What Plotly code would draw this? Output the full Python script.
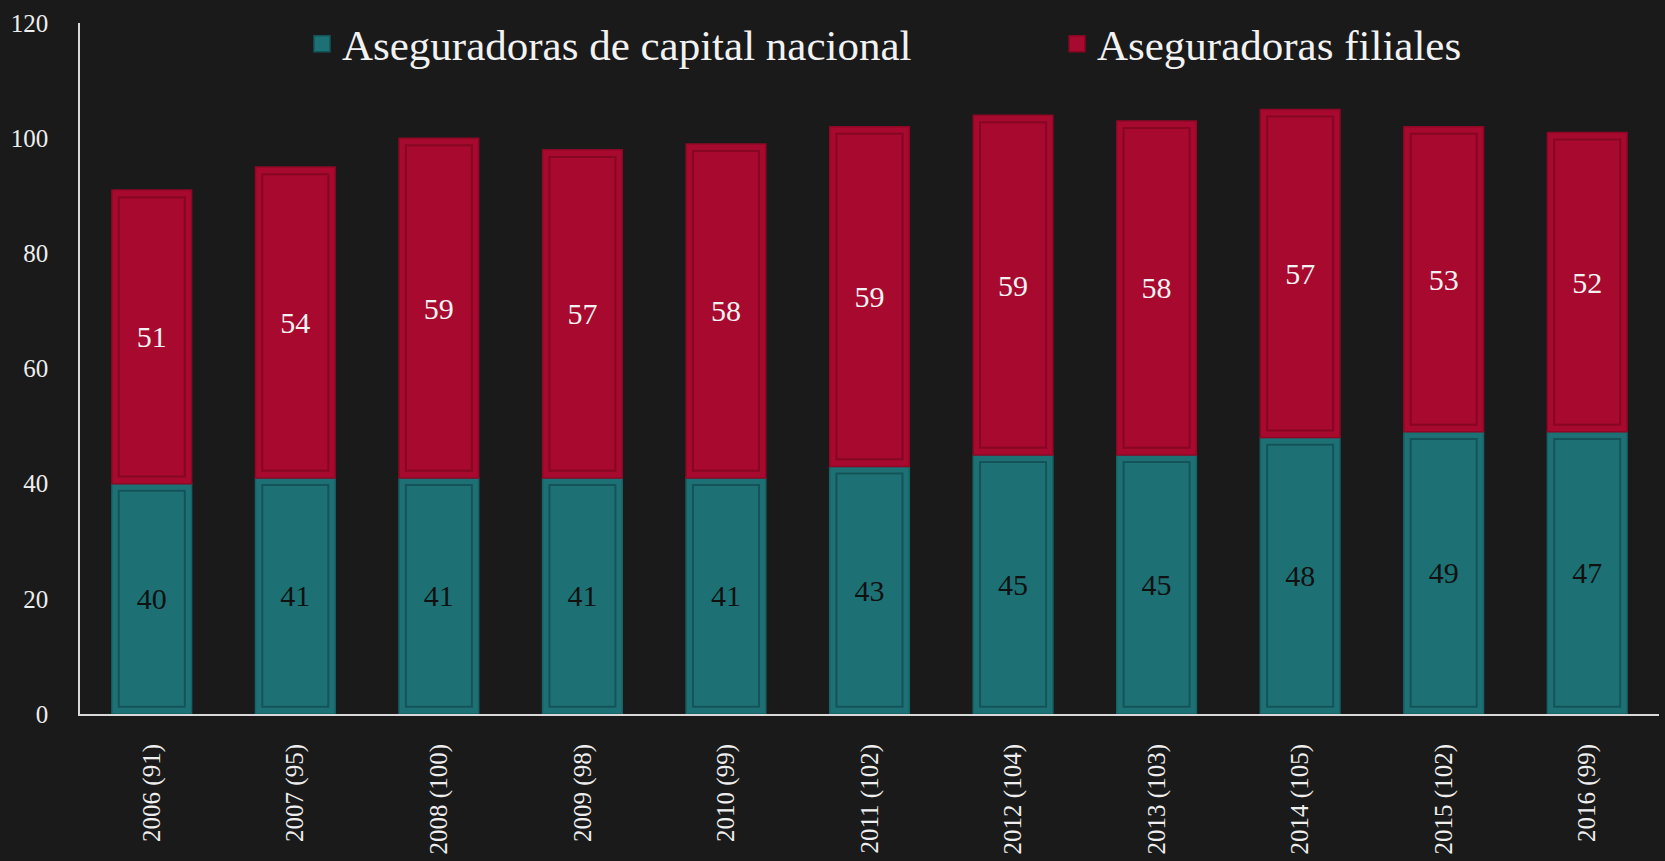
import plotly.graph_objects as go
import numpy as np

categorias = ["2006 (91)", "2007 (95)", "2008 (100)", "2009 (98)", "2010 (99)", "2011 (102)",
              "2012 (104)", "2013 (103)", "2014 (105)", "2015 (102)", "2016 (99)"]
nacional = [40, 41, 41, 41, 41, 43, 45, 45, 48, 49, 49]
nacional_etiquetas = ["40", "41", "41", "41", "41", "43", "45", "45", "48", "49", "47"]
filiales = [51, 54, 59, 57, 58, 59, 59, 58, 57, 53, 52]
filiales_etiquetas = ["51", "54", "59", "57", "58", "59", "59", "58", "57", "53", "52"]

TEAL = "#1d7175"
TEAL_DARK = "#145458"
RED = "#a8092e"
RED_DARK = "#850722"
BG = "#1a1a1a"
FONT = "Liberation Serif"

nac = np.array(nacional, dtype=float)
fil = np.array(filiales, dtype=float)
inset = 1.25

fig = go.Figure()

# outer bars
fig.add_trace(go.Bar(x=categorias, y=nac, base=np.zeros_like(nac), width=0.555,
                     marker=dict(color=TEAL, line=dict(color="#176266", width=1.5)),
                     text=nacional_etiquetas, textposition="inside", insidetextanchor="middle",
                     textangle=0, textfont=dict(color="#111111", size=30, family=FONT),
                     showlegend=False, name="Aseguradoras de capital nacional"))
fig.add_trace(go.Bar(x=categorias, y=fil, base=nac, width=0.555,
                     marker=dict(color=RED, line=dict(color="#8e0826", width=1.5)),
                     text=filiales_etiquetas, textposition="inside", insidetextanchor="middle",
                     textangle=0, textfont=dict(color="#f2f2f2", size=30, family=FONT),
                     showlegend=False, name="Aseguradoras filiales"))
# inner bevel outlines
fig.add_trace(go.Bar(x=categorias, y=nac - 2 * inset, base=np.zeros_like(nac) + inset, width=0.46,
                     marker=dict(color="rgba(0,0,0,0)", line=dict(color=TEAL_DARK, width=2)),
                     showlegend=False, hoverinfo="skip"))
fig.add_trace(go.Bar(x=categorias, y=fil - 2 * inset, base=nac + inset, width=0.46,
                     marker=dict(color="rgba(0,0,0,0)", line=dict(color=RED_DARK, width=2)),
                     showlegend=False, hoverinfo="skip"))

# legend entries
fig.add_trace(go.Scatter(x=[None], y=[None], mode="markers", name="Aseguradoras de capital nacional",
                         legend="legend",
                         marker=dict(symbol="square", size=16, color=TEAL, line=dict(color=TEAL_DARK, width=1.5))))
fig.add_trace(go.Scatter(x=[None], y=[None], mode="markers", name="Aseguradoras filiales",
                         legend="legend2",
                         marker=dict(symbol="square", size=16, color=RED, line=dict(color=RED_DARK, width=1.5))))

plot_l, plot_w = 80, 1579
leg_common = dict(orientation="h", xanchor="left", y=0.97, yanchor="middle",
                  font=dict(size=43, color="#f2f2f2", family=FONT), bgcolor="rgba(0,0,0,0)")

fig.update_layout(
    width=1665, height=861,
    barmode="overlay",
    paper_bgcolor=BG, plot_bgcolor=BG,
    margin=dict(l=plot_l, r=1665 - plot_l - plot_w, t=23, b=147, autoexpand=False),
    font=dict(family=FONT, color="#eeeeee"),
    legend=dict(x=(302 - plot_l) / plot_w, **leg_common),
    legend2=dict(x=(1057 - plot_l) / plot_w, **leg_common),
    xaxis=dict(type="category", showgrid=False, showline=True, linecolor="#d9d9d9", linewidth=2,
               ticks="", tickangle=-90, tickfont=dict(size=25, color="#eeeeee", family=FONT),
               ticklabelstandoff=18, zeroline=False),
    yaxis=dict(range=[0, 120], dtick=20, showgrid=False, showline=True, linecolor="#d9d9d9",
               linewidth=1.5, ticks="", tickfont=dict(size=25, color="#eeeeee", family=FONT),
               ticklabelstandoff=25, zeroline=False),
)

fig.write_html("out.html", config={"displayModeBar": False},
               post_script="document.body.style.margin='0px';document.body.style.background='#1a1a1a';")
